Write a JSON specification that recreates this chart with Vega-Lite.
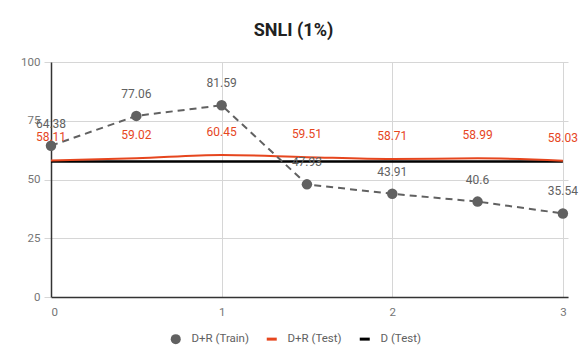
{
  "$schema": "https://vega.github.io/schema/vega-lite/v6.json",
  "width": 517,
  "height": 235,
  "autosize": {"type": "none"},
  "padding": {"left": 51, "top": 62, "right": 18, "bottom": 66},
  "title": {"text": "SNLI (1%)", "fontSize": 18, "font": "Roboto", "fontWeight": "bold", "color": "#212121", "anchor": "middle", "offset": 16, "dx": -16},
  "config": {
    "font": "Roboto",
    "view": {"stroke": null},
    "axis": {"labelFont": "Roboto", "labelFontSize": 11.5, "labelColor": "#757575", "gridColor": "#d6d6d6", "title": null, "domainColor": "#333333", "domainWidth": 1.5}
  },
  "data": {"values": [
    {"x": 0, "series": "D+R (Train)", "value": 64.38},
    {"x": 0.5, "series": "D+R (Train)", "value": 77.06},
    {"x": 1, "series": "D+R (Train)", "value": 81.59},
    {"x": 1.5, "series": "D+R (Train)", "value": 47.93},
    {"x": 2, "series": "D+R (Train)", "value": 43.91},
    {"x": 2.5, "series": "D+R (Train)", "value": 40.6},
    {"x": 3, "series": "D+R (Train)", "value": 35.54},
    {"x": 0, "series": "D+R (Test)", "value": 58.11},
    {"x": 0.5, "series": "D+R (Test)", "value": 59.02},
    {"x": 1, "series": "D+R (Test)", "value": 60.45},
    {"x": 1.5, "series": "D+R (Test)", "value": 59.51},
    {"x": 2, "series": "D+R (Test)", "value": 58.71},
    {"x": 2.5, "series": "D+R (Test)", "value": 58.99},
    {"x": 3, "series": "D+R (Test)", "value": 58.03},
    {"x": 0, "series": "D (Test)", "value": 57.7},
    {"x": 0.5, "series": "D (Test)", "value": 57.7},
    {"x": 1, "series": "D (Test)", "value": 57.7},
    {"x": 1.5, "series": "D (Test)", "value": 57.7},
    {"x": 2, "series": "D (Test)", "value": 57.7},
    {"x": 2.5, "series": "D (Test)", "value": 57.7},
    {"x": 3, "series": "D (Test)", "value": 57.7}
  ]},
  "encoding": {
    "x": {"field": "x", "type": "quantitative", "scale": {"domain": [0, 3.03], "nice": false, "zero": false}, "axis": {"values": [0, 1, 2, 3], "labelPadding": 9, "ticks": false, "grid": true, "domainColor": "#333333"}},
    "y": {"field": "value", "type": "quantitative", "scale": {"domain": [0, 100], "nice": false}, "axis": {"values": [0, 25, 50, 75, 100], "ticks": true, "tickSize": 7, "tickColor": "#d6d6d6", "labelPadding": 4, "grid": true}}
  },
  "layer": [
    {
      "transform": [{"filter": "datum.series === 'D (Test)'"}],
      "mark": {"type": "line", "strokeWidth": 2.5},
      "encoding": {"color": {"field": "series", "type": "nominal", "scale": {"domain": ["D+R (Train)", "D+R (Test)", "D (Test)"], "range": ["#616161", "#e6461e", "#000000"]},
        "legend": {"orient": "none", "legendX": 119, "legendY": 271, "direction": "horizontal", "title": null, "labelFont": "Roboto", "labelFontSize": 11.5, "labelColor": "#616161", "symbolSize": 100, "columnPadding": 17, "labelOffset": 10,
          "encode": {"symbols": {"update": {"shape": {"signal": "datum.value === 'D+R (Train)' ? 'circle' : 'M-1,-0.3H1V0.3H-1Z'"}, "fill": {"signal": "scale('color', datum.value)"}, "fillOpacity": {"value": 1}, "stroke": {"value": "transparent"}, "strokeWidth": {"value": 0}, "strokeDash": {"value": []}}}}}}}
    },
    {
      "transform": [{"filter": "datum.series === 'D+R (Test)'"}],
      "mark": {"type": "line", "strokeWidth": 2, "interpolate": "monotone"},
      "encoding": {"color": {"field": "series", "type": "nominal"}}
    },
    {
      "transform": [{"filter": "datum.series === 'D+R (Train)'"}],
      "mark": {"type": "line", "strokeWidth": 2, "strokeDash": [7, 5]},
      "encoding": {"color": {"field": "series", "type": "nominal"}}
    },
    {
      "transform": [{"filter": "datum.series === 'D+R (Train)'"}],
      "mark": {"type": "point", "filled": true, "size": 110, "opacity": 1},
      "encoding": {"color": {"field": "series", "type": "nominal"}}
    },
    {
      "transform": [{"filter": "datum.series === 'D+R (Train)'"}],
      "mark": {"type": "text", "dy": -22, "fontSize": 12, "color": "#616161"},
      "encoding": {"text": {"field": "value", "type": "quantitative"}}
    },
    {
      "transform": [{"filter": "datum.series === 'D+R (Test)'"}],
      "mark": {"type": "text", "dy": -23, "fontSize": 12, "color": "#e6461e"},
      "encoding": {"text": {"field": "value", "type": "quantitative"}}
    }
  ]
}
